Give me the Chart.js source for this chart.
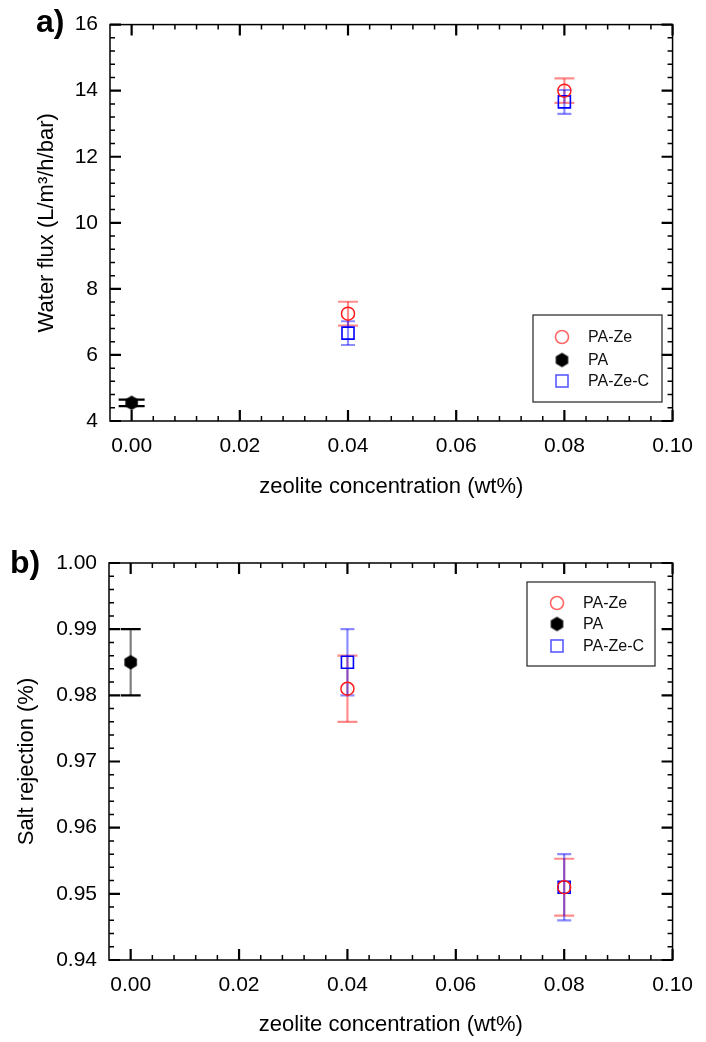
<!DOCTYPE html>
<html>
<head>
<meta charset="utf-8">
<script src="https://cdn.jsdelivr.net/npm/chart.js@4.4.0/dist/chart.umd.min.js"></script>
<style>
    body { margin: 0; background: #fff; width: 706px; height: 1042px; position: relative; overflow: hidden; }
    .panel { position: absolute; left: 0; width: 706px; }
    #wrap-flux { top: 0; height: 505px; }
    #wrap-rej { top: 520px; height: 522px; }
</style>
</head>
<body>
<div class="panel" id="wrap-flux"><canvas id="chart-flux" width="706" height="505"></canvas></div>
<div class="panel" id="wrap-rej"><canvas id="chart-rej" width="706" height="522"></canvas></div>
<script>
(function () {
    'use strict';

    /* --- Data --- */
    var paConc = [0];
    var zeConc = [0.04, 0.08];
    var xTickValues = [0, 0.02, 0.04, 0.06, 0.08, 0.10];

    var fluxTickValues = [4, 6, 8, 10, 12, 14, 16];
    var fluxPA = [4.55],        fluxPAErr = [0.1];
    var fluxPAZe = [7.25, 14.0], fluxPAZeErr = [0.36, 0.37];
    var fluxPAZeC = [6.66, 13.66], fluxPAZeCErr = [0.36, 0.36];

    var rejTickValues = [0.94, 0.95, 0.96, 0.97, 0.98, 0.99, 1.00];
    var rejPA = [0.985],         rejPAErr = [0.005];
    var rejPAZe = [0.981, 0.951], rejPAZeErr = [0.005, 0.0043];
    var rejPAZeC = [0.985, 0.951], rejPAZeCErr = [0.005, 0.005];

    /* --- Shared defaults --- */
    Chart.defaults.font.family = "'Liberation Sans', Arial, sans-serif";
    Chart.defaults.font.size = 21;
    Chart.defaults.color = '#000';

    var red = '#ff1a1a';
    var redLight = 'rgba(255,0,0,0.45)';
    var blue = '#0000ff';
    var blueLight = 'rgba(0,0,255,0.45)';

    function toPoints(xs, ys) {
        return xs.map(function (x, i) { return { x: x, y: ys[i] }; });
    }

    function makeHexagon(r) {
        var c = document.createElement('canvas');
        var s = Math.ceil(r * 2 + 2);
        c.width = s; c.height = s;
        var g = c.getContext('2d');
        g.beginPath();
        for (var i = 0; i < 6; i++) {
            var ang = Math.PI / 2 + i * Math.PI / 3;
            var px = s / 2 + r * Math.cos(ang), py = s / 2 + r * Math.sin(ang);
            if (i) g.lineTo(px, py); else g.moveTo(px, py);
        }
        g.closePath();
        g.fillStyle = '#000';
        g.fill();
        return c;
    }
    var hexagon = makeHexagon(7.2);

    function minorsOf(majors) {
        var out = [];
        for (var i = 0; i < majors.length - 1; i++) {
            var step = (majors[i + 1] - majors[i]) / 5;
            for (var k = 1; k < 5; k++) out.push(majors[i] + k * step);
        }
        return out;
    }

    /* ====================
       Plugins
       ==================== */
    var errorBars = {
        id: 'errorBars',
        beforeDatasetsDraw: function (chart) {
            var ctx = chart.ctx, xs = chart.scales.x, ys = chart.scales.y;
            chart.data.datasets.forEach(function (ds) {
                if (!ds.err) return;
                ds.data.forEach(function (pt, i) {
                    var e = ds.err[i];
                    var px = xs.getPixelForValue(pt.x);
                    var top = ys.getPixelForValue(pt.y + e);
                    var bot = ys.getPixelForValue(pt.y - e);
                    var w = ds.capHalf;
                    ctx.save();
                    ctx.lineWidth = 2.2;
                    ctx.strokeStyle = ds.errLine;
                    ctx.beginPath();
                    ctx.moveTo(px, top); ctx.lineTo(px, bot);
                    ctx.stroke();
                    ctx.strokeStyle = ds.errCap;
                    ctx.beginPath();
                    ctx.moveTo(px - w, top); ctx.lineTo(px + w, top);
                    ctx.moveTo(px - w, bot); ctx.lineTo(px + w, bot);
                    ctx.stroke();
                    ctx.restore();
                });
            });
        }
    };

    var frameTicks = {
        id: 'frameTicks',
        afterDraw: function (chart, args, opts) {
            var ctx = chart.ctx, a = chart.chartArea;
            var xs = chart.scales.x, ys = chart.scales.y;
            ctx.save();
            ctx.strokeStyle = '#000';
            ctx.lineWidth = 1.5;
            ctx.strokeRect(a.left, a.top, a.right - a.left, a.bottom - a.top);

            function tickSet(values, len, width, horizontal) {
                ctx.lineWidth = width;
                ctx.beginPath();
                values.forEach(function (v) {
                    if (horizontal) {
                        var p = xs.getPixelForValue(v);
                        ctx.moveTo(p, a.bottom); ctx.lineTo(p, a.bottom - len);
                        ctx.moveTo(p, a.top); ctx.lineTo(p, a.top + len);
                    } else {
                        var q = ys.getPixelForValue(v);
                        ctx.moveTo(a.left, q); ctx.lineTo(a.left + len, q);
                        ctx.moveTo(a.right, q); ctx.lineTo(a.right - len, q);
                    }
                });
                ctx.stroke();
            }
            tickSet(opts.xMajor, 11, 2.2, true);
            tickSet(minorsOf(opts.xMajor).concat([0.084, 0.088, 0.092, 0.096]), 5, 1.5, true);
            tickSet(opts.yMajor, 11, 2.2, false);
            tickSet(minorsOf(opts.yMajor), 5, 1.5, false);
            ctx.restore();
        }
    };

    var boxLegend = {
        id: 'boxLegend',
        afterDraw: function (chart, args, o) {
            var ctx = chart.ctx;
            ctx.save();
            ctx.strokeStyle = '#222';
            ctx.lineWidth = 1.2;
            ctx.strokeRect(o.box[0], o.box[1], o.box[2] - o.box[0], o.box[3] - o.box[1]);
            ctx.font = "16px 'Liberation Sans', Arial, sans-serif";
            ctx.fillStyle = '#111';
            ctx.textBaseline = 'middle';
            ctx.textAlign = 'left';
            var labels = ['PA-Ze', 'PA', 'PA-Ze-C'];
            labels.forEach(function (t, i) {
                var y = o.rows[i], x = o.markX;
                if (i === 0) {
                    ctx.strokeStyle = 'rgba(255,0,0,0.6)';
                    ctx.lineWidth = 1.6;
                    ctx.beginPath();
                    ctx.arc(x, y, 6.5, 0, Math.PI * 2);
                    ctx.stroke();
                } else if (i === 1) {
                    ctx.drawImage(hexagon, x - hexagon.width / 2, y - hexagon.height / 2);
                } else {
                    ctx.strokeStyle = 'rgba(0,0,255,0.65)';
                    ctx.lineWidth = 1.6;
                    ctx.strokeRect(x - 6, y - 6, 12, 12);
                }
                ctx.fillText(t, o.textX, y + 1);
            });
            ctx.restore();
        }
    };

    var panelLabel = {
        id: 'panelLabel',
        afterDraw: function (chart, args, o) {
            var ctx = chart.ctx;
            ctx.save();
            ctx.font = "bold 32px 'Liberation Sans', Arial, sans-serif";
            ctx.fillStyle = '#000';
            ctx.textBaseline = 'alphabetic';
            ctx.fillText(o.text, o.x, o.y);
            ctx.restore();
        }
    };

    function buildDatasets(pa, paErr, ze, zeErr, zec, zecErr, paCap) {
        return [
            {
                label: 'PA-Ze',
                data: toPoints(zeConc, ze),
                err: zeErr, errLine: redLight, errCap: redLight, capHalf: 10,
                pointStyle: 'circle', pointRadius: 6.5,
                borderColor: red, borderWidth: 1.5, backgroundColor: 'transparent'
            },
            {
                label: 'PA',
                data: toPoints(paConc, pa),
                err: paErr, errLine: 'rgba(0,0,0,0.5)', errCap: '#000', capHalf: paCap,
                pointStyle: hexagon, pointRadius: 7
            },
            {
                label: 'PA-Ze-C',
                data: toPoints(zeConc, zec),
                err: zecErr, errLine: blueLight, errCap: blueLight, capHalf: 7,
                pointStyle: 'rect', pointRadius: 8.5,
                borderColor: blue, borderWidth: 1.6, backgroundColor: 'transparent'
            }
        ];
    }

    function buildOptions(cfg) {
        return {
            responsive: false,
            animation: false,
            devicePixelRatio: 1,
            layout: { padding: cfg.padding },
            plugins: {
                legend: { display: false },
                tooltip: { enabled: false },
                frameTicks: { xMajor: xTickValues, yMajor: cfg.yTicks },
                boxLegend: cfg.legend,
                panelLabel: cfg.label
            },
            scales: {
                x: {
                    type: 'linear',
                    min: -0.004,
                    max: 0.10,
                    grid: { display: false, drawTicks: false },
                    border: { display: false },
                    afterBuildTicks: function (s) { s.ticks = xTickValues.map(function (v) { return { value: v }; }); },
                    afterFit: function (s) { s.height = cfg.xHeight; },
                    ticks: {
                        padding: 13,
                        maxRotation: 0,
                        autoSkip: false,
                        callback: function (v) { return Number(v).toFixed(2); }
                    },
                    title: { display: true, text: 'zeolite concentration (wt%)', padding: 0, font: { size: 22 } }
                },
                y: {
                    type: 'linear',
                    min: cfg.yTicks[0],
                    max: cfg.yTicks[cfg.yTicks.length - 1],
                    grid: { display: false, drawTicks: false },
                    border: { display: false },
                    afterBuildTicks: function (s) { s.ticks = cfg.yTicks.map(function (v) { return { value: v }; }); },
                    afterFit: function (s) { s.width = cfg.yWidth; },
                    ticks: { padding: 12, autoSkip: false, callback: cfg.yFormat },
                    title: { display: true, text: cfg.yTitle, padding: 0, font: { size: 22 } }
                }
            }
        };
    }

    /* ========================================
       a) Water flux
       ======================================== */
    new Chart(document.getElementById('chart-flux'), {
        type: 'scatter',
        data: { datasets: buildDatasets(fluxPA, fluxPAErr, fluxPAZe, fluxPAZeErr, fluxPAZeC, fluxPAZeCErr, 13) },
        options: buildOptions({
            padding: { top: 21, right: 27, left: 34, bottom: 4.4 },
            xHeight: 79.6,
            yWidth: 76,
            yTicks: fluxTickValues,
            yFormat: function (v) { return String(v); },
            yTitle: 'Water flux (L/m\u00B3/h/bar)',
            legend: { box: [533, 315, 662, 402], markX: 562, rows: [337, 360, 381], textX: 588 },
            label: { text: 'a)', x: 36, y: 32 }
        }),
        plugins: [errorBars, frameTicks, boxLegend, panelLabel]
    });

    /* ========================================
       b) Salt rejection
       ======================================== */
    new Chart(document.getElementById('chart-rej'), {
        type: 'scatter',
        data: { datasets: buildDatasets(rejPA, rejPAErr, rejPAZe, rejPAZeErr, rejPAZeC, rejPAZeCErr, 10) },
        options: buildOptions({
            padding: { top: 43, right: 32.3, left: 14, bottom: 3.4 },
            xHeight: 78.6,
            yWidth: 95,
            yTicks: rejTickValues,
            yFormat: function (v) { return Number(v).toFixed(2); },
            yTitle: 'Salt rejection (%)',
            legend: { box: [527, 62, 655, 146], markX: 557, rows: [83, 104, 126], textX: 583 },
            label: { text: 'b)', x: 10, y: 53 }
        }),
        plugins: [errorBars, frameTicks, boxLegend, panelLabel]
    });

})();
</script>
</body>
</html>
